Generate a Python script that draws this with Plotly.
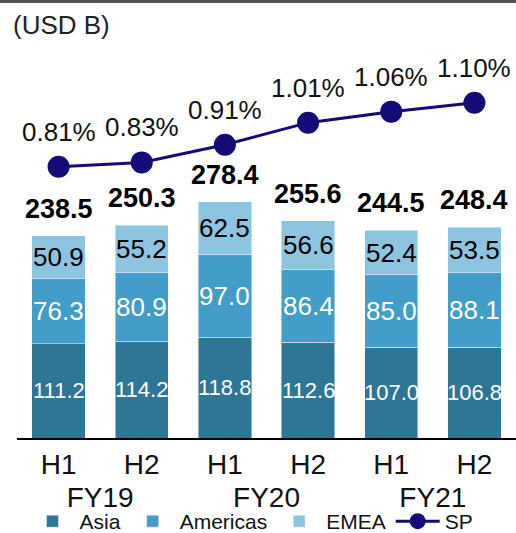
import plotly.graph_objects as go

fiscal_years = ["FY19", "FY19", "FY20", "FY20", "FY21", "FY21"]
halves = ["H1", "H2", "H1", "H2", "H1", "H2"]
asia = [111.2, 114.2, 118.8, 112.6, 107.0, 106.8]
americas = [76.3, 80.9, 97.0, 86.4, 85.0, 88.1]
emea = [50.9, 55.2, 62.5, 56.6, 52.4, 53.5]
totals = [238.5, 250.3, 278.4, 255.6, 244.5, 248.4]
sp = [0.81, 0.83, 0.91, 1.01, 1.06, 1.10]

FONT = "Liberation Sans, Arial, sans-serif"
C_ASIA = "#2F7596"
C_AMER = "#429DC9"
C_EMEA = "#8DC4DF"
C_SP = "#140A78"

x = [fiscal_years, halves]
fig = go.Figure()
seg_line = dict(color="rgba(255,255,255,0.45)", width=1)
fig.add_bar(x=x, y=asia, name="Asia", marker=dict(color=C_ASIA, line=seg_line))
fig.add_bar(x=x, y=americas, name="Americas", marker=dict(color=C_AMER, line=seg_line))
fig.add_bar(x=x, y=emea, name="EMEA", marker=dict(color=C_EMEA, line=seg_line))
fig.add_scatter(x=x, y=sp, name="SP", yaxis="y2", mode="lines+markers",
                line=dict(color=C_SP, width=3),
                marker=dict(color=C_SP, size=22))

ann = []
for i in range(len(asia)):
    base = 0
    for vals, col, fs in ((asia, "white", 22), (americas, "white", 26), (emea, "black", 26)):
        ann.append(dict(x=i, y=base + vals[i] / 2, xref="x", yref="y", text=f"{vals[i]:.1f}",
                        showarrow=False, yanchor="middle",
                        font=dict(family=FONT, size=fs, color=col)))
        base += vals[i]
    ann.append(dict(x=i, y=base, xref="x", yref="y", text=f"<b>{totals[i]:.1f}</b>",
                    showarrow=False, yanchor="middle", yshift=27,
                    font=dict(family=FONT, size=27, color="black")))
    ann.append(dict(x=i, y=sp[i], xref="x", yref="y2", text=f"{sp[i]:.2f}%",
                    showarrow=False, yanchor="middle", yshift=35,
                    font=dict(family=FONT, size=26, color="#111111")))
ann.append(dict(x=-17 / 499, y=1 + 35 / 378, xref="paper", yref="paper", text="(USD B)",
                showarrow=False, xanchor="left", yanchor="middle", xshift=11,
                font=dict(family=FONT, size=26, color="#222222")))

fig.update_layout(
    width=516, height=533,
    margin=dict(l=17, r=0, t=60, b=95, autoexpand=False),
    barmode="stack", bargap=0.36,
    plot_bgcolor="white", paper_bgcolor="white",
    font=dict(family=FONT, color="#111111"),
    annotations=ann,
    shapes=[dict(type="line", xref="paper", yref="paper", x0=-17 / 499, x1=1,
                 y0=1 + 58.5 / 378, y1=1 + 58.5 / 378, layer="above",
                 line=dict(color="#555555", width=3))],
    xaxis=dict(type="multicategory", showline=True, linecolor="black", linewidth=2,
               showgrid=False, ticks="", showdividers=False, range=[-0.5, 5.5],
               tickfont=dict(family=FONT, size=28, color="#111111")),
    yaxis=dict(range=[0, 445.2], visible=False, showgrid=False),
    yaxis2=dict(range=[-0.419, 1.294], overlaying="y", visible=False, showgrid=False),
    legend=dict(orientation="h", x=0.017, xanchor="left", y=-0.221, yanchor="middle",
                bgcolor="rgba(0,0,0,0)",
                font=dict(family=FONT, size=21, color="#111111"), traceorder="normal",
                itemwidth=44),
    showlegend=True,
)
fig.write_html("out.html", config={"displayModeBar": False},
               post_script="document.body.style.margin='0';window.dispatchEvent(new Event('resize'));")
